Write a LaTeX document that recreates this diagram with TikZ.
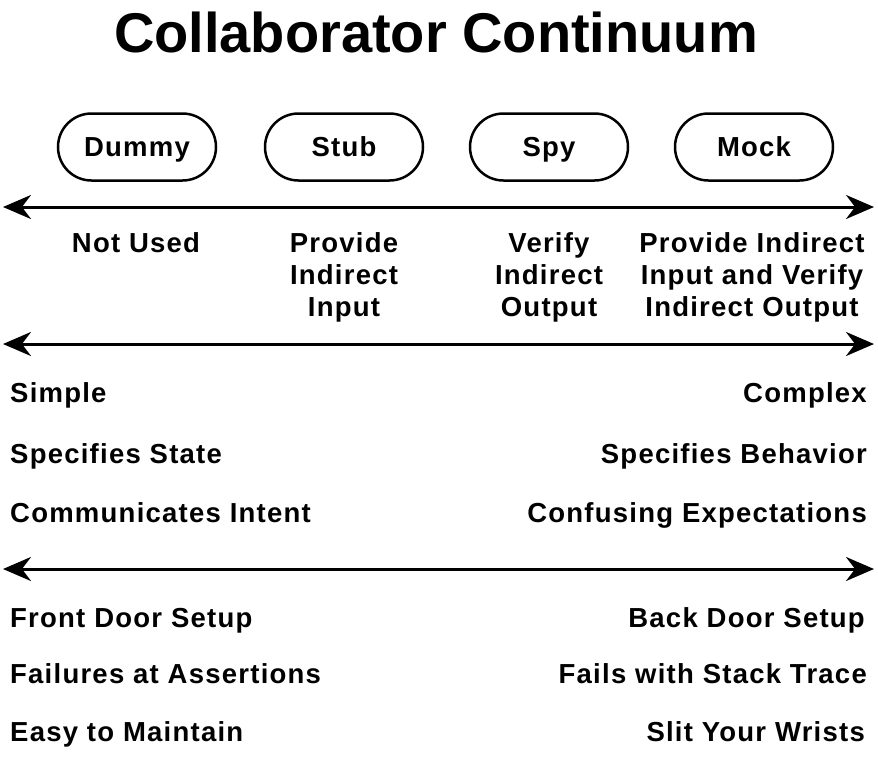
\documentclass[tikz,border=0pt]{standalone}
\usepackage{fontspec}
\setmainfont{Liberation Sans}[LetterSpace=4.5]
\newfontfamily\titlefont{Liberation Sans}
\usetikzlibrary{arrows.meta,shapes.misc}
\begin{document}
\begin{tikzpicture}[x=1pt,y=-1pt,
  lbl/.style={font=\fontsize{27.5}{32}\selectfont\bfseries, inner sep=0pt, align=center},
  pill/.style={draw, line width=2.5pt, rounded rectangle, minimum width=158pt, minimum height=67pt, inner sep=0pt, text height=19.5pt, text depth=0pt, font=\fontsize{27.5}{30}\selectfont\bfseries, anchor=center},
  axis/.style={line width=3pt, {Stealth[length=28pt,width=24pt]}-{Stealth[length=28pt,width=24pt]}},
  lefttxt/.style={lbl, anchor=base west},
  righttxt/.style={lbl, anchor=base east}]
\useasboundingbox (0,0) rectangle (878,756);
\fill[white] (0,0) rectangle (878,756);
\node[font=\titlefont\fontsize{56}{60}\selectfont\bfseries, inner sep=0pt, anchor=base] (title) at (436,52) {Collaborator Continuum};

\node[pill] (dummy) at (137,147) {Dummy};
\node[pill] (stub) at (344,147) {Stub};
\node[pill] (spy) at (549,147) {Spy};
\node[pill] (mock) at (754,147) {Mock};

\coordinate (a1l) at (3,207); \coordinate (a1r) at (874,207);
\draw[axis] (a1l) -- (a1r);

\node[lbl, anchor=base] (notused) at (136,252) {Not Used};
\node[lbl, anchor=base] (provide) at (344,316) {Provide\\Indirect\\Input};
\node[lbl, anchor=base] (verify) at (549,316) {Verify\\Indirect\\Output};
\node[lbl, anchor=base] (both) at (752,316) {Provide Indirect\\Input and Verify\\Indirect Output};

\coordinate (a2l) at (3,344); \coordinate (a2r) at (874,344);
\draw[axis] (a2l) -- (a2r);

\node[lefttxt] (simple) at (10,402) {Simple};
\node[lefttxt] (state) at (10,463) {Specifies State};
\node[lefttxt] (intent) at (10,522) {Communicates Intent};
\node[righttxt] (complex) at (867,402) {Complex};
\node[righttxt] (behavior) at (867,463) {Specifies Behavior};
\node[righttxt] (confusing) at (867,522) {Confusing Expectations};

\coordinate (a3l) at (3,569); \coordinate (a3r) at (874,569);
\draw[axis] (a3l) -- (a3r);

\node[lefttxt] (front) at (10,627) {Front Door Setup};
\node[lefttxt] (failures) at (10,683) {Failures at Assertions};
\node[lefttxt] (easy) at (10,741) {Easy to Maintain};
\node[righttxt] (back) at (865,627) {Back Door Setup};
\node[righttxt] (stack) at (867,683) {Fails with Stack Trace};
\node[righttxt] (slit) at (865,741) {Slit Your Wrists};
\end{tikzpicture}
\end{document}
